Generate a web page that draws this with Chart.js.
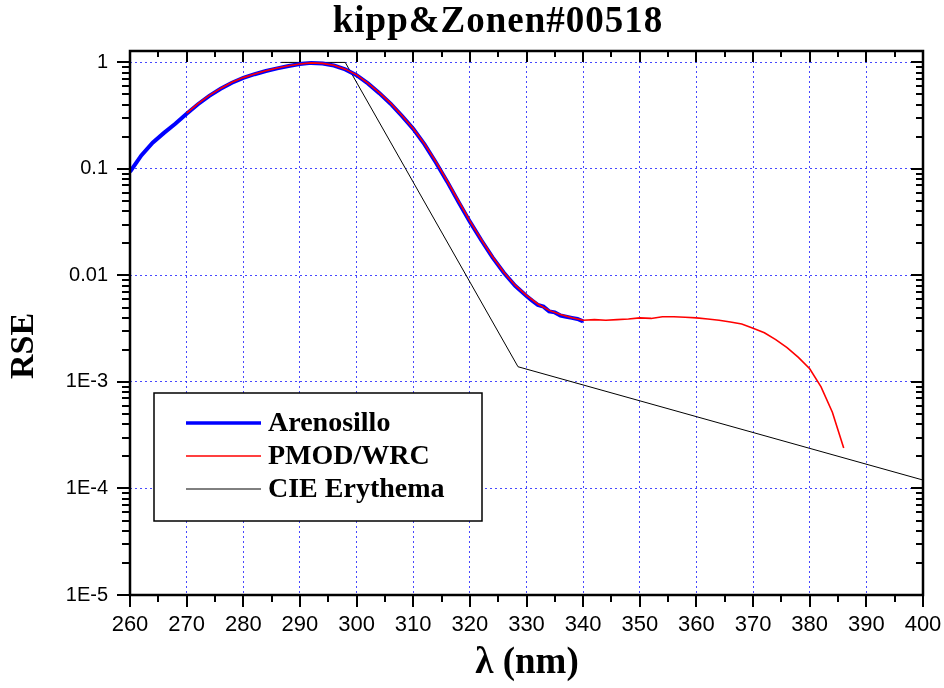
<!DOCTYPE html>
<html>
<head>
<meta charset="utf-8">
<script src="https://cdn.jsdelivr.net/npm/chart.js@4.4.1/dist/chart.umd.min.js"></script>
<style>
  html, body { margin: 0; padding: 0; background: #fff; }
  canvas { display: block; }
</style>
</head>
<body>
<canvas id="chart" width="944" height="688"></canvas>
<script>
// values
const arenosilloX = [260, 262, 264, 266, 268, 270, 272, 274, 276, 278, 280, 282, 284, 286, 288, 290,
    292, 294, 296, 298, 300, 302, 304, 306, 308, 310, 312, 314, 316, 318, 320, 322, 324, 326, 328,
    330, 331, 332, 333, 334, 335, 336, 337, 338, 339, 340];
const arenosilloY = [0.094, 0.134, 0.176, 0.218, 0.266, 0.330, 0.405, 0.485, 0.565, 0.645, 0.715,
    0.775, 0.830, 0.880, 0.925, 0.965, 0.990, 0.975, 0.935, 0.860, 0.760, 0.635, 0.515, 0.410, 0.315,
    0.238, 0.170, 0.115, 0.076, 0.049, 0.032, 0.0215, 0.0148, 0.0106, 0.0080,
    0.0064, 0.0058, 0.0053, 0.0051, 0.0046, 0.0045, 0.0042, 0.0041, 0.0040, 0.0039, 0.0037];

const pmodX = [270, 272, 274, 276, 278, 280, 282, 284, 286, 288, 290, 292, 294, 296, 298, 300,
    302, 304, 306, 308, 310, 312, 314, 316, 318, 320, 322, 324, 326, 328, 330, 332, 334, 336, 338,
    340, 342, 344, 346, 348, 350, 352, 354, 356, 358, 360, 362, 364, 366, 368, 370, 372, 374, 376,
    378, 380, 382, 384, 386];
const pmodY = [0.335, 0.41, 0.49, 0.57, 0.65, 0.72, 0.78, 0.835, 0.885, 0.93, 0.968, 0.99, 0.98,
    0.94, 0.865, 0.765, 0.64, 0.52, 0.415, 0.318, 0.24, 0.172, 0.117, 0.077, 0.050, 0.0325, 0.0218,
    0.0150, 0.0107, 0.0081, 0.0065, 0.0054, 0.0047, 0.0043, 0.0040,
    0.0038, 0.00385, 0.00380, 0.00385, 0.00390, 0.00400, 0.00395, 0.00410, 0.00410, 0.00405,
    0.00400, 0.00390, 0.00380, 0.00365, 0.00350, 0.00320, 0.00290, 0.00250, 0.00210, 0.00170,
    0.00133, 0.00090, 0.00052, 0.00024];

const cieX = [286.7, 298, 328.5, 400];
const cieY = [1, 1, 0.00139, 0.00012];

const seriesNames = ['Arenosillo', 'PMOD/WRC', 'CIE Erythema'];
const seriesColors = ['#0000ff', '#ff0000', '#000000'];

const xTicks = [260, 270, 280, 290, 300, 310, 320, 330, 340, 350, 360, 370, 380, 390, 400];
const yTickValues = [1e-5, 1e-4, 1e-3, 0.01, 0.1, 1];
const yTickLabels = ['1E-5', '1E-4', '1E-3', '0.01', '0.1', '1'];

const titleText = 'kipp&Zonen#00518';
const xTitle = 'λ (nm)';
const yTitle = 'RSE';

const serif = '"Liberation Serif", "Times New Roman", serif';
const sans = '"Liberation Sans", Arial, sans-serif';
const gridBlue = 'rgba(40, 40, 255, 0.85)';

function points(xs, ys) {
    return xs.map((x, i) => ({ x: x, y: ys[i] }));
}

function yLabel(value) {
    for (let i = 0; i < yTickValues.length; i++) {
        if (Math.abs(value / yTickValues[i] - 1) < 1e-6) return yTickLabels[i];
    }
    return '';
}

// frame, tick marks on all four sides, titles and the boxed legend
const decorations = {
    id: 'decorations',
    afterDraw(chart) {
        const ctx = chart.ctx;
        const a = chart.chartArea;
        const xs = chart.scales.x;
        const ys = chart.scales.y;
        ctx.save();
        ctx.strokeStyle = '#000';
        ctx.lineWidth = 2;
        ctx.beginPath();
        for (let v = 260; v <= 400; v += 5) {
            const px = Math.round(xs.getPixelForValue(v));
            const major = v % 10 === 0;
            ctx.moveTo(px, a.bottom);
            ctx.lineTo(px, a.bottom + (major ? 12 : 7));
            ctx.moveTo(px, a.top);
            ctx.lineTo(px, a.top + (major ? 11 : 6));
        }
        ys.ticks.forEach(t => {
            const py = Math.round(ys.getPixelForValue(t.value));
            ctx.moveTo(a.left, py);
            ctx.lineTo(a.left - (t.major ? 13 : 8), py);
            ctx.moveTo(a.right, py);
            ctx.lineTo(a.right - (t.major ? 12 : 7), py);
        });
        ctx.stroke();

        ctx.lineWidth = 2.5;
        ctx.strokeRect(a.left, a.top, a.right - a.left, a.bottom - a.top);

        // titles
        ctx.fillStyle = '#000';
        ctx.textAlign = 'center';
        ctx.textBaseline = 'alphabetic';
        ctx.font = 'bold 37px ' + serif;
        ctx.letterSpacing = '1px';
        ctx.fillText(titleText, 498, 32);
        ctx.letterSpacing = '0px';
        ctx.font = 'bold 37px ' + serif;
        ctx.textBaseline = 'middle';
        ctx.fillText(xTitle, 527, 663);
        ctx.font = 'bold 34px ' + serif;
        ctx.save();
        ctx.translate(24, 346);
        ctx.rotate(-Math.PI / 2);
        ctx.fillText(yTitle, 0, 0);
        ctx.restore();

        // legend
        const box = { left: 154, top: 393, right: 482, bottom: 521 };
        ctx.fillStyle = '#fff';
        ctx.fillRect(box.left, box.top, box.right - box.left, box.bottom - box.top);
        ctx.lineWidth = 1.5;
        ctx.strokeStyle = '#000';
        ctx.strokeRect(box.left, box.top, box.right - box.left, box.bottom - box.top);
        const widths = [3.5, 1.5, 1];
        ctx.font = 'bold 28px ' + serif;
        ctx.textAlign = 'left';
        ctx.textBaseline = 'middle';
        seriesNames.forEach((name, i) => {
            const y = 423 + i * 33;
            ctx.strokeStyle = seriesColors[i];
            ctx.lineWidth = widths[i];
            ctx.beginPath();
            ctx.moveTo(186, y);
            ctx.lineTo(261, y);
            ctx.stroke();
            ctx.fillStyle = '#000';
            ctx.fillText(name, 268, y + 1);
        });
        ctx.restore();
    }
};

const chart = new Chart(document.getElementById('chart'), {
    type: 'line',
    data: {
        datasets: [{
            label: seriesNames[1],
            data: points(pmodX, pmodY),
            borderColor: seriesColors[1],
            borderWidth: 1.6,
            order: 0
        }, {
            label: seriesNames[0],
            data: points(arenosilloX, arenosilloY),
            borderColor: seriesColors[0],
            borderWidth: 4,
            order: 1
        }, {
            label: seriesNames[2],
            data: points(cieX, cieY),
            borderColor: seriesColors[2],
            borderWidth: 1,
            order: 2
        }]
    },
    options: {
        responsive: false,
        animation: false,
        devicePixelRatio: 1,
        elements: { point: { radius: 0 }, line: { tension: 0 } },
        layout: { padding: { top: 51, right: 21, bottom: 0, left: 0 } },
        plugins: {
            legend: { display: false },
            title: { display: false },
            tooltip: { enabled: false }
        },
        scales: {
            x: {
                type: 'linear',
                min: 260,
                max: 400,
                afterBuildTicks: (scale) => {
                    scale.ticks = xTicks.map(v => ({ value: v }));
                },
                afterFit: (scale) => {
                    scale.height = 93;
                    scale.paddingLeft = 0;
                    scale.paddingRight = 0;
                },
                ticks: {
                    autoSkip: false,
                    maxRotation: 0,
                    padding: 17,
                    color: '#000',
                    font: { family: sans, size: 22 }
                },
                grid: {
                    drawTicks: false,
                    color: gridBlue,
                    lineWidth: 1
                },
                border: { display: false, dash: [2, 3] }
            },
            y: {
                type: 'logarithmic',
                min: 1e-5,
                max: 1.28,
                afterBuildTicks: (scale) => {
                    const ticks = [];
                    yTickValues.forEach((v, i) => {
                        ticks.push({ value: v, major: true });
                        if (i < yTickValues.length - 1) {
                            for (let m = 2; m < 10; m++) ticks.push({ value: v * m, major: false });
                        }
                    });
                    scale.ticks = ticks;
                },
                afterFit: (scale) => {
                    scale.width = 130;
                    scale.paddingTop = 0;
                    scale.paddingBottom = 0;
                },
                ticks: {
                    autoSkip: false,
                    padding: 22,
                    color: '#000',
                    font: { family: sans, size: 20 },
                    callback: (value) => yLabel(value)
                },
                grid: {
                    drawTicks: false,
                    lineWidth: 1,
                    color: (ctx) => (ctx.tick && ctx.tick.major) ? gridBlue : 'rgba(0,0,0,0)'
                },
                border: { display: false, dash: [2, 3] }
            }
        }
    },
    plugins: [decorations]
});
</script>
</body>
</html>
